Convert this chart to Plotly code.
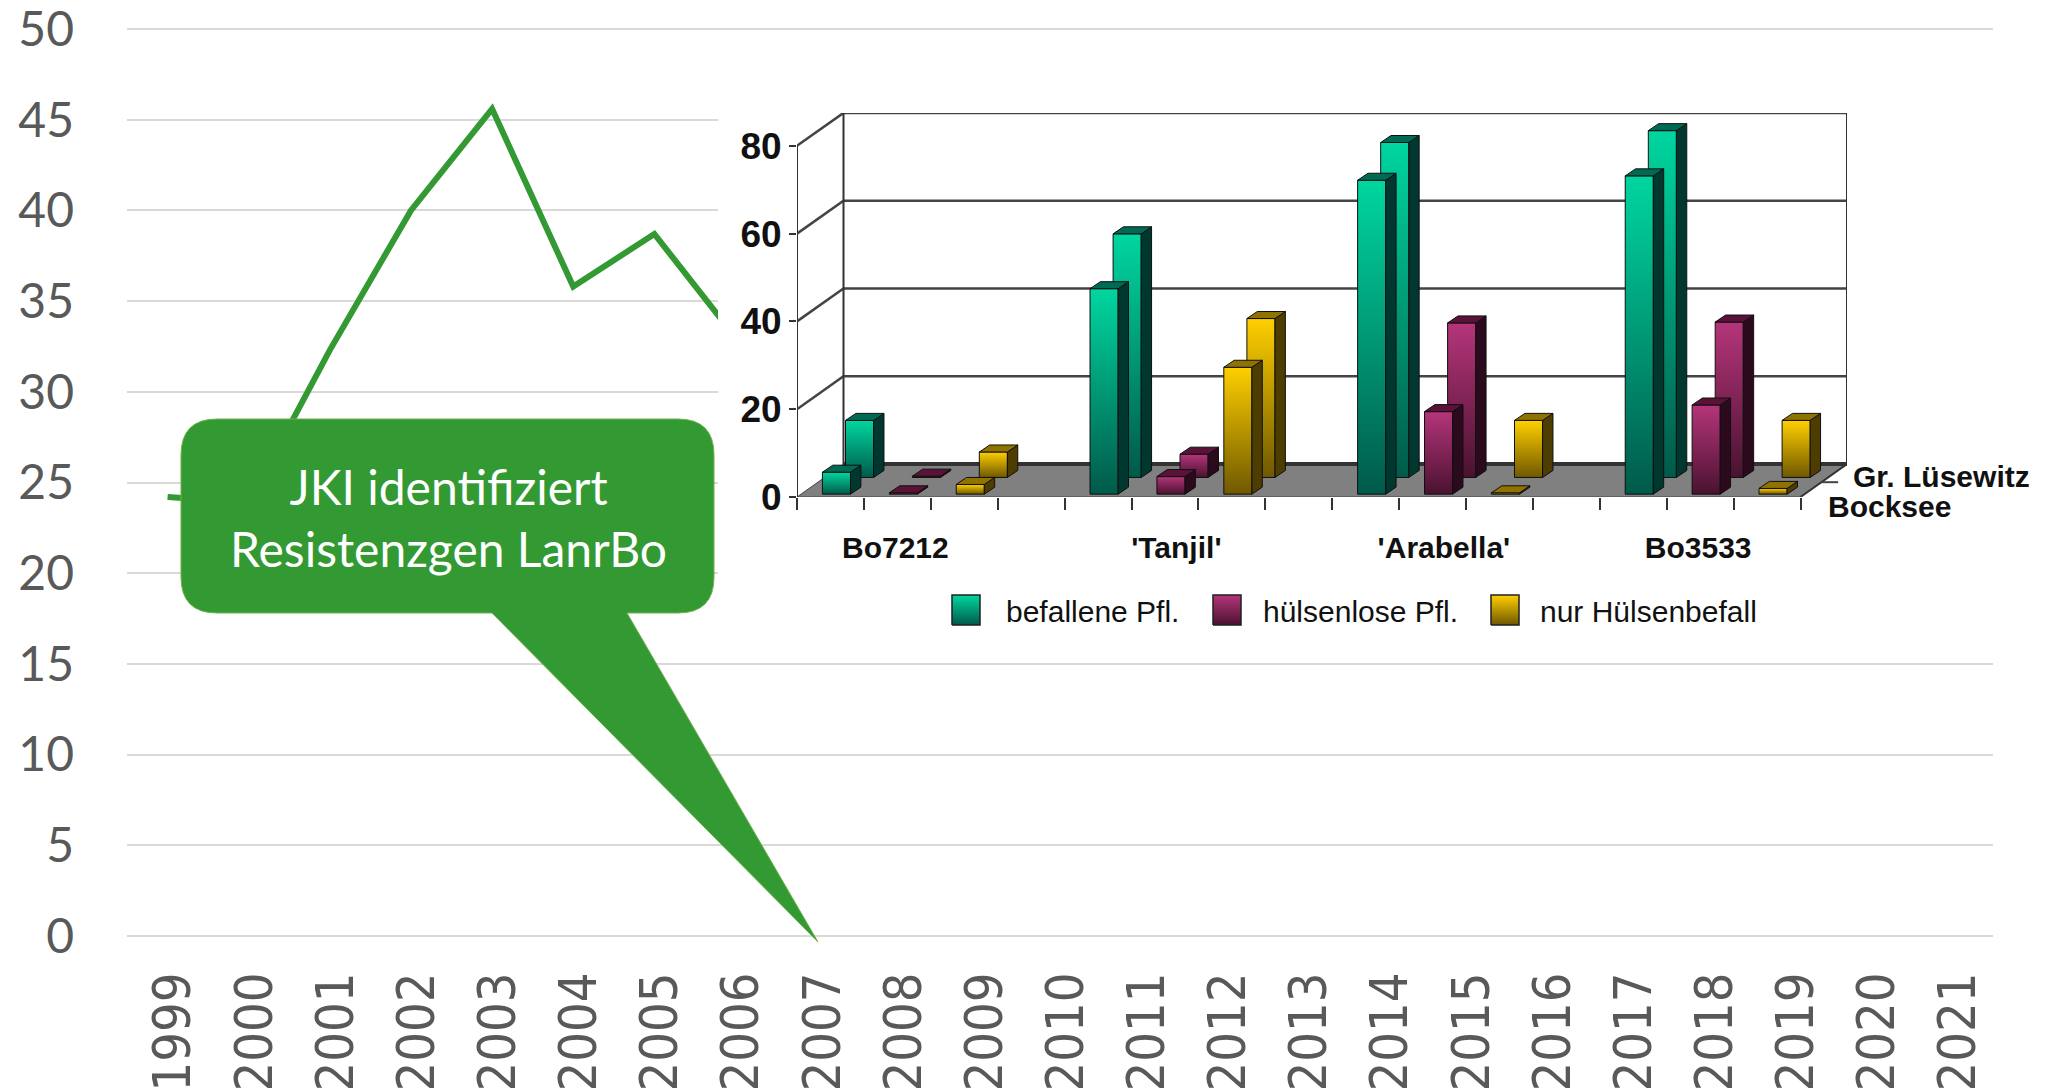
import plotly.graph_objects as go

W, H = 2056, 1092

# ---- main line chart data ----
years = [str(y) for y in range(1999, 2022)]
befall_values = [24.2, 23.9, 32.3, 40.0, 45.6, 35.8, 38.7, 33.0]
y_ticks = [0, 5, 10, 15, 20, 25, 30, 35, 40, 45, 50]

# ---- inset 3D bar chart data ----
varieties = ["Bo7212", "'Tanjil'", "'Arabella'", "Bo3533"]
variety_label_pos = [1.47, 5.67, 9.67, 13.47]
locations = ["Bocksee", "Gr. Lüsewitz"]
series_names = ["befallene Pfl.", "hülsenlose Pfl.", "nur Hülsenbefall"]
befallene_bocksee = [5.0, 46.8, 71.5, 72.5]
befallene_luesewitz = [13.0, 55.5, 76.3, 79.0]
huelsenlos_bocksee = [0.3, 4.0, 18.8, 20.3]
huelsenlos_luesewitz = [0.3, 5.3, 35.2, 35.4]
nurhuelsen_bocksee = [2.2, 28.9, 0.3, 1.3]
nurhuelsen_luesewitz = [5.8, 36.2, 13.0, 13.0]
inset_ticks = [0, 20, 40, 60, 80]

# colours: (front top, front bottom, side, top face)
PALETTE = [
    ("#00d6a0", "#005a4a", "#00382f", "#006a55"),
    ("#b5357a", "#4a1230", "#2c0a1e", "#5a1238"),
    ("#ffcf00", "#6f5800", "#4d3d00", "#8f7200"),
]
GREEN = "#339933"
GREY = "#595959"
GRID = "#D9D9D9"


def fx(px):
    return px / W


def fy(py):
    return 1 - py / H


fig = go.Figure()

# main line
fig.add_trace(go.Scatter(
    x=years[:len(befall_values)], y=befall_values, mode="lines",
    line=dict(color=GREEN, width=6, shape="linear"),
    xaxis="x", yaxis="y", showlegend=False, hoverinfo="skip"))

# white backdrop subplot for the pasted-in chart
fig.add_trace(go.Scatter(x=[None], y=[None], xaxis="x2", yaxis="y2",
                         showlegend=False, hoverinfo="skip"))

# --- inset geometry, in axis units: slots along x, percent along y
SLOTS = 15
SLOT_PX, UNIT_PX = 66.9, 4.39
DX, DY = 0.695, 7.5           # floor depth
BAR_W = 0.42
BAR_DX, BAR_DY = 0.155, 1.6   # depth of one bar
ROW_DX = [0.0, 0.345]
ROW_BASE = [0.65, 4.45]
FIRST = 0.38


def poly(xs, ys, ax=("x3", "y3"), **kw):
    fig.add_trace(go.Scatter(x=xs, y=ys, mode="lines", fill="toself",
                             xaxis=ax[0], yaxis=ax[1], cliponaxis=False,
                             showlegend=False, hoverinfo="skip", **kw))


def seg(xs, ys, color="#444444", width=2.5):
    fig.add_trace(go.Scatter(x=xs, y=ys, mode="lines",
                             line=dict(color=color, width=width),
                             xaxis="x3", yaxis="y3", cliponaxis=False,
                             showlegend=False, hoverinfo="skip"))


def gradient(colors):
    return dict(type="vertical", colorscale=[[0, colors[1]], [1, colors[0]]])


# floor
poly([0, SLOTS, SLOTS + DX, DX, 0], [0, 0, DY, DY, 0],
     fillcolor="#808080", line=dict(color="#444444", width=1))
# walls
for v in inset_ticks[1:]:
    seg([0, DX, SLOTS + DX], [v, v + DY, v + DY])
seg([DX, SLOTS + DX], [DY, DY], color="#333333", width=4)
seg([0, 0], [0, 80], color="#333333", width=2)
seg([DX, DX], [DY, 80 + DY], color="#333333", width=2)
seg([SLOTS + DX, SLOTS + DX], [DY, 80 + DY], color="#333333", width=2)
seg([SLOTS, SLOTS + DX], [0, DY], color="#333333", width=2)
seg([SLOTS + DX * 0.45, SLOTS + DX * 0.45 + 0.25], [DY * 0.45, DY * 0.45], width=2)
seg([SLOTS + DX, SLOTS + DX + 0.25], [DY, DY], width=2)


def bar(x0, base, value, colors):
    front_top, front_bottom, side, topc = colors
    line = dict(color="#101010", width=1)
    x1, top = x0 + BAR_W, base + value
    poly([x0, x1, x1, x0, x0], [base, base, top, top, base],
         line=line, fillgradient=gradient(colors))
    poly([x1, x1 + BAR_DX, x1 + BAR_DX, x1, x1],
         [base, base + BAR_DY, top + BAR_DY, top, base],
         line=line, fillcolor=side)
    poly([x0, x1, x1 + BAR_DX, x0 + BAR_DX, x0],
         [top, top, top + BAR_DY, top + BAR_DY, top],
         line=line, fillcolor=topc)


rows = [
    [befallene_bocksee, huelsenlos_bocksee, nurhuelsen_bocksee],
    [befallene_luesewitz, huelsenlos_luesewitz, nurhuelsen_luesewitz],
]
for r in (1, 0):
    for g in range(len(varieties)):
        for s in range(3):
            bar(FIRST + ROW_DX[r] + 4 * g + s, ROW_BASE[r], rows[r][s][g], PALETTE[s])

# legend swatches live in their own little subplot, one unit per pixel
SW_L, SW_R, SW_T, SW_B = 950, 1522, 593, 627
for px, colors in zip([952, 1213, 1491], PALETTE):
    a, b = px - SW_L, px + 28 - SW_L
    poly([a, b, b, a, a], [2, 2, 32, 32, 2], ax=("x4", "y4"),
         line=dict(color="#202020", width=1.5), fillgradient=gradient(colors))

annotations = []
for name, px in zip(series_names, [1004, 1261, 1538]):
    annotations.append(dict(text=name, x=fx(px), y=fy(611), xref="paper", yref="paper",
                            xanchor="left", yanchor="middle", showarrow=False,
                            font=dict(family="Liberation Sans", size=30, color="#111111")))
for name, px, py in zip(locations, [1826, 1851], [506, 476]):
    annotations.append(dict(text=name, x=fx(px), y=fy(py), xref="paper", yref="paper",
                            xanchor="left", yanchor="middle", showarrow=False,
                            font=dict(family="Liberation Sans", size=30, color="#111111", weight=700)))
annotations.append(dict(text="JKI identifiziert<br>Resistenzgen LanrBo",
                        x=fx(448), y=fy(517), xref="paper", yref="paper",
                        xanchor="center", yanchor="middle", align="center", showarrow=False,
                        font=dict(family="Lato", size=48, color="white")))

# callout bubble
L, R, T, B, RAD = 181, 714, 419, 613, 36
P = lambda x, y: f"{fx(x):.5f},{fy(y):.5f}"
bubble = (f"M{P(L + RAD, T)} L{P(R - RAD, T)} Q{P(R, T)} {P(R, T + RAD)} "
          f"L{P(R, B - RAD)} Q{P(R, B)} {P(R - RAD, B)} L{P(627, B)} L{P(818, 942)} "
          f"L{P(492, B)} L{P(L + RAD, B)} Q{P(L, B)} {P(L, B - RAD)} "
          f"L{P(L, T + RAD)} Q{P(L, T)} {P(L + RAD, T)} Z")

fig.update_layout(
    width=W, height=H, autosize=False,
    margin=dict(l=0, r=0, t=0, b=0, pad=0),
    paper_bgcolor="white", plot_bgcolor="white", showlegend=False,
    xaxis=dict(domain=[fx(127), fx(1993)], type="category", categoryorder="array",
               categoryarray=years, range=[-0.5, 22.5], tickmode="array",
               tickvals=years, ticktext=years, tickangle=-90, showgrid=False,
               zeroline=False, showline=False, ticks="", ticklabelstandoff=25,
               ticklabelshift=6,
               tickfont=dict(family="DejaVu Sans Condensed", size=52, color=GREY),
               anchor="y", automargin=False),
    yaxis=dict(domain=[fy(936), fy(27.2)], range=[0, 50.1], tickvals=y_ticks,
               showgrid=True, gridcolor=GRID, gridwidth=2, zeroline=True,
               zerolinecolor=GRID, zerolinewidth=2, showline=False, ticks="",
               ticklabelstandoff=52, ticklabeloverflow="allow",
               tickfont=dict(family="Lato", size=48, color=GREY), anchor="x",
               automargin=False),
    xaxis2=dict(domain=[fx(718), 1], range=[0, 1], visible=False, anchor="y2"),
    yaxis2=dict(domain=[fy(650), fy(36)], range=[0, 1], visible=False, anchor="x2"),
    xaxis3=dict(domain=[fx(797), fx(797 + SLOT_PX * (SLOTS + DX))], range=[0, SLOTS + DX],
                tickmode="array", tickvals=variety_label_pos, ticktext=varieties,
                ticks="", showgrid=False, zeroline=False, showline=False,
                ticklabelstandoff=30, anchor="y3", automargin=False,
                tickfont=dict(family="Liberation Sans", size=30, color="#111111", weight=700),
                minor=dict(tickmode="linear", tick0=0, dtick=1, ticks="outside",
                           ticklen=12, tickwidth=2, tickcolor="#333333", showgrid=False)),
    yaxis3=dict(domain=[fy(497), fy(497 - UNIT_PX * (80 + DY))], range=[0, 80 + DY],
                tickmode="array", tickvals=inset_ticks, ticks="outside", ticklen=7,
                tickwidth=2, tickcolor="#333333", showgrid=False, zeroline=False,
                showline=False, anchor="x3", automargin=False,
                tickfont=dict(family="Liberation Sans", size=37, color="#111111", weight=700)),
    xaxis4=dict(domain=[fx(SW_L), fx(SW_R)], range=[0, SW_R - SW_L], visible=False, anchor="y4"),
    yaxis4=dict(domain=[fy(SW_B), fy(SW_T)], range=[0, SW_B - SW_T], visible=False, anchor="x4"),
    shapes=[dict(type="path", path=bubble, xref="paper", yref="paper", layer="above",
                 fillcolor=GREEN, line=dict(color="#6FB24F", width=1))],
    annotations=annotations,
)

fig.write_html("out.html", config={"displayModeBar": False},
               post_script="document.body.style.margin='0';document.body.style.overflow='hidden';")
